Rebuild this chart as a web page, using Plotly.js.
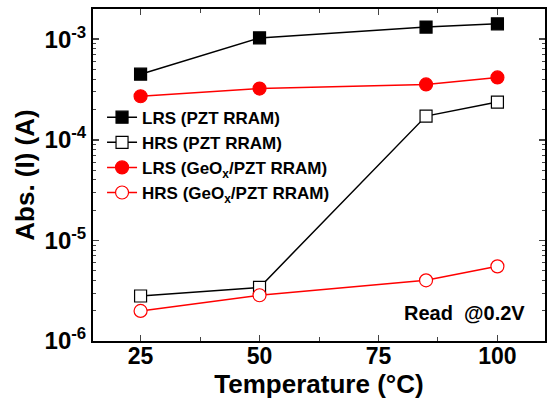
<!DOCTYPE html>
<html><head><meta charset="utf-8">
<script src="https://cdn.plot.ly/plotly-3.0.1.min.js"></script>
<style>html,body{margin:0;padding:0;background:#fff}#c{width:547px;height:401px}</style>
</head><body><div id="c"></div>
<script>
const temps = [25, 50, 85, 100];
const lrsPZT = [4.49e-4, 1.03e-3, 1.32e-3, 1.42e-3];
const hrsPZT = [2.8e-6, 3.41e-6, 1.72e-4, 2.37e-4];
const lrsGeOx = [2.71e-4, 3.23e-4, 3.55e-4, 4.17e-4];
const hrsGeOx = [1.99e-6, 2.85e-6, 4.01e-6, 5.52e-6];
const names = ['LRS (PZT RRAM)', 'HRS (PZT RRAM)', 'LRS (GeO<sub>x</sub>/PZT RRAM)', 'HRS (GeO<sub>x</sub>/PZT RRAM)'];
const yTickVals = [1e-6, 1e-5, 1e-4, 1e-3];
const yTickText = ['10<sup>-6</sup>', '10<sup>-5</sup>', '10<sup>-4</sup>', '10<sup>-3</sup>'];
const xTickVals = [25, 50, 75, 100];

const minorY = [];
for (let e = -6; e <= -3; e++) for (let m = 2; m <= 9; m++) { const v = m * Math.pow(10, e); if (v < 2e-3) minorY.push(v); }

const F = "'Liberation Sans', Arial, sans-serif";
function tr(y, name, sym, color, fill) {
  return {x: temps, y: y, name: name, type: 'scatter', mode: 'lines+markers',
    line: {color: color, width: 1.5},
    marker: {symbol: sym, size: sym === 'square' ? 12 : 13, color: fill ? color : '#fff', line: {color: color, width: 1.2}}};
}
const data = [
  tr(lrsPZT, names[0], 'square', '#000', true),
  tr(hrsPZT, names[1], 'square', '#000', false),
  tr(lrsGeOx, names[2], 'circle', '#ff0000', true),
  tr(hrsGeOx, names[3], 'circle', '#ff0000', false)
];

const layout = {
  width: 547, height: 401,
  margin: {l: 93, r: 2, t: 9, b: 60},
  paper_bgcolor: '#fff', plot_bgcolor: '#fff',
  font: {family: F, color: '#000'},
  showlegend: true,
  legend: {x: 0.02, y: 0.727, xanchor: 'left', yanchor: 'top', bgcolor: 'rgba(0,0,0,0)',
    font: {family: F, size: 17, color: '#000', weight: 'bold'}, itemwidth: 30, tracegroupgap: 0},
  xaxis: {range: [15, 110], tickmode: 'array', tickvals: xTickVals, ticks: 'inside', ticklen: 6, tickwidth: 1.5,
    showline: true, linewidth: 2, linecolor: '#000', mirror: 'ticks', showgrid: false, zeroline: false,
    tickfont: {family: F, size: 23, weight: 'bold'}, ticklabelstandoff: -7,
    minor: {tickmode: 'linear', tick0: 12.5, dtick: 25, ticks: 'inside', ticklen: 4, tickwidth: 1, showgrid: false},
    title: {text: 'Temperature (°C)', font: {family: F, size: 26, weight: 'bold'}, standoff: 0}},
  yaxis: {type: 'log', range: [-6, -2.7], tickmode: 'array', tickvals: yTickVals, ticktext: yTickText,
    ticks: 'inside', ticklen: 6, tickwidth: 1.5, showline: true, linewidth: 2, linecolor: '#000', mirror: 'ticks',
    showgrid: false, zeroline: false, tickfont: {family: F, size: 24, weight: 'bold'},
    minor: {tickmode: 'array', tickvals: minorY, ticks: 'inside', ticklen: 3, tickwidth: 1, showgrid: false},
    title: {text: 'Abs. (I) (A)', font: {family: F, size: 26, weight: 'bold'}, standoff: 2}},
  annotations: [{text: 'Read&nbsp; @0.2V', xref: 'paper', yref: 'paper', x: 0.96, y: 0.085, xanchor: 'right', yanchor: 'middle',
    showarrow: false, font: {family: F, size: 20, weight: 'bold', color: '#000'}}]
};
Plotly.newPlot('c', data, layout, {displayModeBar: false, staticPlot: true});
</script></body></html>
